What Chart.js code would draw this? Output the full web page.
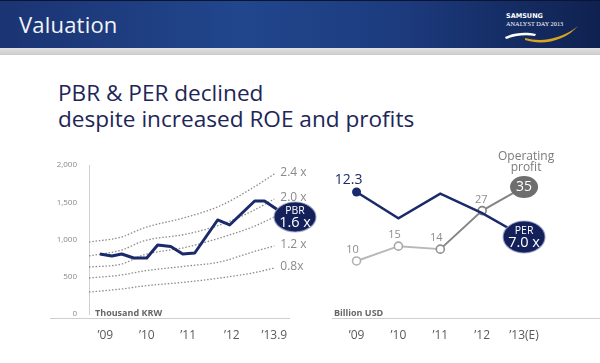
<!DOCTYPE html>
<html>
<head>
<meta charset="utf-8">
<script src="https://cdn.jsdelivr.net/npm/chart.js@4.4.1/dist/chart.umd.min.js"></script>
<style>
    body { margin: 0; background: #fff; font-family: "Open Sans", sans-serif; }
    #slide { position: relative; width: 600px; height: 363px; overflow: hidden; background: #fff; }
    #header {
        position: absolute; left: 0; top: 0; width: 600px; height: 47px;
        background: linear-gradient(90deg, #1b3473 0%, #21468c 40%, #1d3c80 65%, #0f2150 100%);
        border-top: 1px solid #0b1533;
    }
    #header h1 {
        position: absolute; left: 19px; top: 8px; margin: 0;
        font-size: 22px; font-weight: 400; color: #f2f4f8; letter-spacing: 0.2px;
    }
    #strip { position: absolute; left: 0; top: 48px; width: 600px; height: 7px; background: linear-gradient(#e2e2e2, #cbcbcb); }
    #logo { position: absolute; left: 503px; top: 9px; width: 80px; height: 34px; }
    #title {
        position: absolute; left: 58px; top: 80px; margin: 0;
        font-size: 22.6px; line-height: 26px; font-weight: 400; color: #1d2657;
    }
    .unit { position: absolute; top: 306px; font-size: 9px; font-weight: 700; color: #666; }
    .base { position: absolute; top: 318px; height: 1px; background: #cfcfcf; }
    canvas { position: absolute; }
</style>
</head>
<body>
<div id="slide">
    <div id="header">
        <h1>Valuation</h1>
        <svg id="logo" viewBox="0 0 80 34">
            <text x="3" y="8" font-family="DejaVu Sans" font-weight="bold" font-size="6.5" fill="#fff">SAMSUNG</text>
            <text x="3" y="15.5" font-family="Liberation Serif" font-size="6.3" fill="#fff">ANALYST DAY 2013</text>
            <path d="M2 27 C 12 22, 24 22, 33 24 L 32 26 C 22 24.5, 12 25.5, 3 29 Z" fill="#fff"/>
            <path d="M22 28 C 40 33, 60 28, 75 16 C 62 31, 40 36, 22 30 Z" fill="#d9a520"/>
        </svg>
    </div>
    <div id="strip"></div>
    <div id="title">PBR &amp; PER declined<br>despite increased ROE and profits</div>

    <canvas id="pbrChart" width="330" height="215" style="left:0;top:140px"></canvas>
    <canvas id="perChart" width="270" height="215" style="left:330px;top:140px"></canvas>

    <div class="base" style="left:50px;width:240px"></div>
    <div class="base" style="left:332px;width:268px"></div>
    <div class="unit" style="left:95px">Thousand KRW</div>
    <div class="unit" style="left:334px">Billion USD</div>
</div>

<script>
// ---- left chart: share price vs PBR bands (thousand KRW), x = quarter index from '09
const xLabelsL = ["\u201909", "\u201910", "\u201911", "\u201912", "\u201913.9"];
const xTickPosL = [0.5, 4.3, 8.1, 12.1, 16];

const priceX = [0, 1.1, 2, 3.1, 4.3, 5.3, 6.5, 7.6, 8.7, 10.8, 11.9, 14.2, 15.1, 16.2, 17.9];
const priceY = [805, 778, 805, 752, 752, 926, 906, 805, 819, 1262, 1195, 1517, 1517, 1409, 1302];

const bandX = [-1, 2, 4, 8, 11, 14, 16];
const band24 = [966, 1034, 1154, 1302, 1450, 1691, 1879];
const band20 = [779, 859, 980, 1074, 1195, 1383, 1544];
const band16 = [631, 671, 792, 899, 1020, 1168, 1302];
const band12 = [483, 524, 577, 644, 698, 832, 913];
const band08 = [295, 336, 376, 430, 483, 550, 617];
const bandNames = ["2.4 x", "2.0 x", null, "1.2 x", "0.8x"];

// ---- right chart: PER and operating profit
const xLabelsR = ["\u201909", "\u201910", "\u201911", "\u201912", "\u201913(E)"];
const perVals = [12.3, 9.2, 12.1, 9.8, 7.0];
const profitVals = [10, 15, 14, 27, 35];

const NAVY = "#1b2a6b";
Chart.defaults.font.family = '"Open Sans", sans-serif';

function pts(xs, ys) {
    return xs.map((x, i) => ({ x: x, y: ys[i] }));
}

function bubble(ctx, x, y, rx, ry, fill, line1, line2) {
    ctx.save();
    ctx.beginPath();
    ctx.ellipse(x, y, rx, ry, 0, 0, Math.PI * 2);
    ctx.fillStyle = fill;
    ctx.fill();
    ctx.lineWidth = 1.2;
    ctx.strokeStyle = "rgba(150,160,200,0.8)";
    ctx.stroke();
    ctx.fillStyle = "#fff";
    ctx.textAlign = "center";
    ctx.textBaseline = "middle";
    ctx.font = '10.5px "Open Sans"';
    ctx.fillText(line1, x, y - 6);
    ctx.font = '14.5px "Open Sans"';
    ctx.fillText(line2, x, y + 6);
    ctx.restore();
}

const bandStyle = {
    borderColor: "#8c8c8c",
    borderWidth: 1.3,
    borderDash: [1.5, 1.8],
    pointRadius: 0,
    cubicInterpolationMode: "monotone"
};

const leftLabels = {
    id: "leftLabels",
    afterDatasetsDraw(chart) {
        const ctx = chart.ctx;
        ctx.save();
        ctx.font = '12px "Open Sans"';
        ctx.fillStyle = "#8a8a8a";
        ctx.textBaseline = "middle";
        for (let i = 1; i <= 5; i++) {
            const name = bandNames[i - 1];
            if (!name) continue;
            const d = chart.getDatasetMeta(i).data;
            const p = d[d.length - 1];
            ctx.fillText(name, p.x + 6, p.y - 1);
        }
        ctx.restore();
        const d0 = chart.getDatasetMeta(0).data;
        const end = d0[d0.length - 1];
        bubble(ctx, end.x, end.y, 21, 15, "#14205a", "PBR", "1.6 x");
    }
};

new Chart(document.getElementById("pbrChart"), {
    type: "line",
    data: {
        datasets: [
            { data: pts(priceX, priceY), borderColor: NAVY, borderWidth: 3, pointRadius: 0, borderJoinStyle: "round" },
            Object.assign({ data: pts(bandX, band24) }, bandStyle),
            Object.assign({ data: pts(bandX, band20) }, bandStyle),
            Object.assign({ data: pts(bandX, band16) }, bandStyle),
            Object.assign({ data: pts(bandX, band12) }, bandStyle),
            Object.assign({ data: pts(bandX, band08) }, bandStyle)
        ]
    },
    options: {
        responsive: false,
        animation: false,
        layout: { padding: { top: 25, right: 23, left: 0, bottom: 0 } },
        plugins: { legend: { display: false }, tooltip: { enabled: false } },
        scales: {
            x: {
                type: "linear",
                min: -1,
                max: 19,
                grid: { display: false },
                border: { display: false },
                afterBuildTicks: function (scale) {
                    scale.ticks = xTickPosL.map(v => ({ value: v }));
                },
                afterFit: function (scale) { scale.height = 41; },
                ticks: {
                    padding: 6,
                    color: "#5a5a5a",
                    font: { size: 12 },
                    autoSkip: false,
                    maxRotation: 0,
                    callback: (value, index) => xLabelsL[index]
                }
            },
            y: {
                min: 0,
                max: 2000,
                grid: { display: false },
                border: { display: true, color: "#d0d0d0" },
                afterFit: function (scale) { scale.width = 89; },
                ticks: {
                    stepSize: 500,
                    padding: 4,
                    color: "#888",
                    font: { size: 8 },
                    callback: v => v.toLocaleString("en-US")
                }
            }
        }
    },
    plugins: [leftLabels]
});

const rightLabels = {
    id: "rightLabels",
    afterDatasetsDraw(chart) {
        const ctx = chart.ctx;
        const per = chart.getDatasetMeta(0).data;
        const op = chart.getDatasetMeta(1).data;
        ctx.save();
        ctx.textAlign = "center";
        ctx.textBaseline = "middle";

        ctx.font = '14px "Open Sans"';
        ctx.fillStyle = NAVY;
        ctx.fillText(perVals[0].toFixed(1), per[0].x - 8, per[0].y - 12);

        ctx.font = '11px "Open Sans"';
        ctx.fillStyle = "#8c8c8c";
        for (let i = 0; i < 4; i++) {
            ctx.fillText(String(profitVals[i]), op[i].x - 4 + (i === 3 ? 3 : 0), op[i].y - 11);
        }

        const last = op[op.length - 1];
        ctx.beginPath();
        ctx.ellipse(last.x, last.y, 14, 11, 0, 0, Math.PI * 2);
        ctx.fillStyle = "#6e6e6e";
        ctx.fill();
        ctx.fillStyle = "#fff";
        ctx.font = '14px "Open Sans"';
        ctx.fillText(String(profitVals[4]), last.x, last.y);

        ctx.fillStyle = "#7a7a7a";
        ctx.font = '12px "Open Sans"';
        ctx.fillText("Operating", last.x + 2, last.y - 30);
        ctx.fillText("profit", last.x + 2, last.y - 19);
        ctx.restore();

        const pe = per[per.length - 1];
        bubble(ctx, pe.x, pe.y, 21, 16, "#14205a", "PER", perVals[4].toFixed(1) + " x");
    }
};

new Chart(document.getElementById("perChart"), {
    type: "line",
    data: {
        labels: xLabelsR,
        datasets: [
            {
                data: perVals,
                yAxisID: "yPer",
                borderColor: NAVY,
                borderWidth: 2.5,
                pointRadius: [4.5, 0, 0, 0, 0],
                pointBackgroundColor: NAVY,
                pointBorderWidth: 0
            },
            {
                data: profitVals,
                yAxisID: "yOp",
                borderWidth: 2,
                segment: { borderColor: c => (c.p0DataIndex < 2 ? "#b8b8b8" : "#858585") },
                borderColor: "#999",
                pointRadius: [4, 4, 4, 4, 0],
                pointBackgroundColor: "#fff",
                pointBorderColor: ["#b0b0b0", "#a8a8a8", "#909090", "#808080", "#808080"],
                pointBorderWidth: 1.6
            }
        ]
    },
    options: {
        responsive: false,
        animation: false,
        layout: { padding: { top: 25, right: 55, left: 0, bottom: 0 } },
        plugins: { legend: { display: false }, tooltip: { enabled: false } },
        scales: {
            x: {
                offset: true,
                grid: { display: false },
                border: { display: false },
                afterFit: function (scale) { scale.height = 41; },
                ticks: { padding: 6, color: "#5a5a5a", font: { size: 12 }, maxRotation: 0 }
            },
            yPer: { display: false, min: -2.07, max: 15.48 },
            yOp: { display: false, min: -7.9, max: 42.4 }
        }
    },
    plugins: [rightLabels]
});
</script>
</body>
</html>
